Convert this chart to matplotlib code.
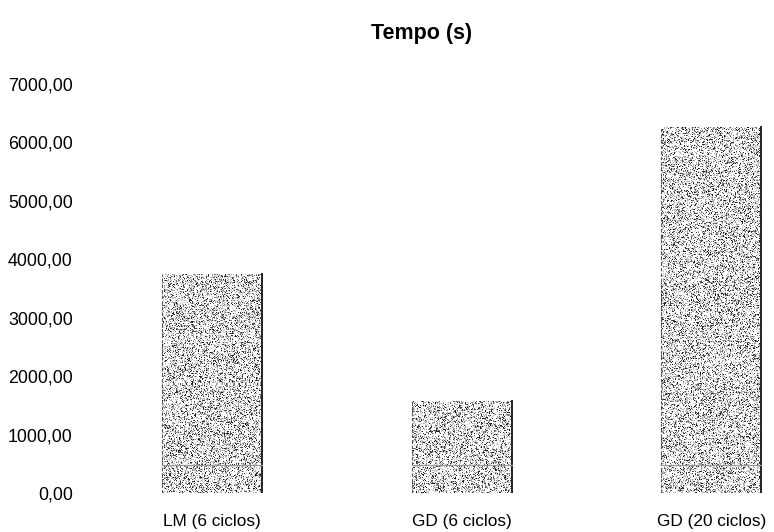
import numpy as np
import matplotlib
matplotlib.use("Agg")
import matplotlib.pyplot as plt

plt.rcParams["font.family"] = ["Liberation Sans", "DejaVu Sans"]

categories = ["LM (6 ciclos)", "GD (6 ciclos)", "GD (20 ciclos)"]
tempo = [3740.0, 1575.0, 6265.0]
yticks = [0, 1000, 2000, 3000, 4000, 5000, 6000, 7000]
ytick_labels = ["0,00", "1000,00", "2000,00", "3000,00", "4000,00",
                "5000,00", "6000,00", "7000,00"]

fig = plt.figure(figsize=(7.74, 5.32), dpi=100)
ax = fig.add_axes([0.1137, 0.0733, 0.8812, 0.7688])

x = np.arange(len(categories))
width = 0.40
bars = ax.bar(x, tempo, width=width, color="none", edgecolor="none")

# stippled grey fill for each bar
rng = np.random.default_rng(7)
for rect in bars:
    x0, y0 = rect.get_x(), rect.get_y()
    w, h = rect.get_width(), rect.get_height()
    npx_w = 100
    npx_h = max(int(h / 7000 * 409), 2)
    base = rng.random((npx_h, npx_w))
    dots = np.where(base < 0.17, rng.uniform(0.05, 0.45, base.shape),
                    np.where(base < 0.42, rng.uniform(0.55, 0.85, base.shape), 1.0))
    im = ax.imshow(dots, cmap="gray", vmin=0, vmax=1, extent=(x0, x0 + w, y0, y0 + h),
                   aspect="auto", interpolation="nearest", zorder=2)
    im.set_clip_path(rect)
    ax.plot([x0 + w, x0 + w], [y0, y0 + h], color="#222222", lw=1.4, zorder=3)
    ax.plot([x0, x0], [y0, y0 + h], color="#555555", lw=0.8, ls=(0, (3, 2)), zorder=3)
    ax.plot([x0, x0 + w], [480, 480], color="#999999", lw=0.9, zorder=3)

ax.set_xlim(-0.497, 2.236)
ax.set_ylim(0, 7000)
ax.set_yticks(yticks)
ax.set_yticklabels(ytick_labels, fontsize=12.8)
ax.set_xticks(x)
ax.set_xticklabels(categories, fontsize=12.4)
ax.tick_params(axis="y", length=0, pad=11)
ax.tick_params(axis="x", length=0, pad=15)
for s in ax.spines.values():
    s.set_visible(False)

fig.text(0.545, 0.937, "Tempo (s)", ha="center", va="center",
         fontsize=15.5, fontweight="bold")

fig.savefig("out.png", dpi=100)
